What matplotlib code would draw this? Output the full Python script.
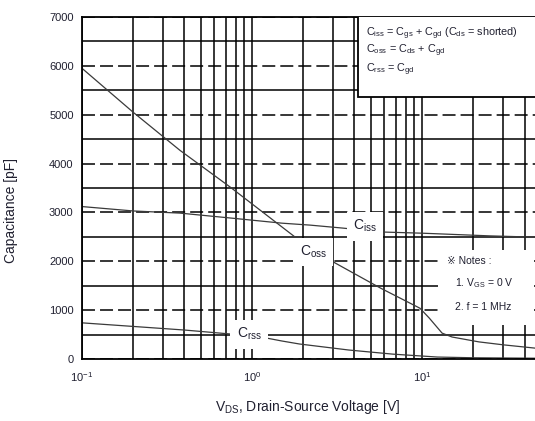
import matplotlib as mpl
mpl.use('Agg')
import matplotlib.pyplot as plt
from matplotlib.ticker import LogLocator, MultipleLocator, NullFormatter
from matplotlib.patches import Rectangle

plt.rcParams['font.family'] = ['Liberation Sans', 'DejaVu Sans']
plt.rcParams['mathtext.fontset'] = 'custom'
plt.rcParams['mathtext.rm'] = 'Liberation Sans'
plt.rcParams['mathtext.it'] = 'Liberation Sans'

# values (V in volts, C in pF)
ciss_v = [0.1, 0.2, 0.377, 0.75, 1.5, 2.2, 3.4, 5.7, 10, 14, 25, 50]
ciss_c = [3120, 3030, 2986, 2885, 2780, 2740, 2680, 2600, 2575, 2555, 2520, 2490]

coss_v = [0.1, 0.2, 0.377, 0.743, 1.83, 2.85, 5.7, 9.7, 11.0, 13.1, 15, 21.6, 30, 50]
coss_c = [5950, 5050, 4270, 3520, 2470, 2030, 1450, 1040, 840, 530, 450, 350, 290, 210]

crss_v = [0.1, 0.4, 0.75, 1.13, 1.5, 1.9, 3.7, 6.7, 12.3, 20, 50]
crss_c = [740, 593, 511, 450, 368, 307, 184, 100, 40, 25, 15]

txt = '#202030'
ink = 'black'

fig = plt.figure(figsize=(5.35, 4.21), dpi=100)
ax = fig.add_axes([82/535, 62/421, 459/535, 342/421])
ax.set_xscale('log')
ax.set_xlim(0.1, 50)
ax.set_ylim(0, 7000)
ax.set_axisbelow(True)

ax.yaxis.set_major_locator(MultipleLocator(1000))
ax.yaxis.set_minor_locator(MultipleLocator(500))
ax.xaxis.set_minor_locator(LogLocator(base=10, subs=range(2, 10)))
ax.xaxis.set_minor_formatter(NullFormatter())

ax.grid(which='major', axis='y', color=ink, lw=1.1, ls=(0, (8.5, 3.3)))
ax.grid(which='minor', axis='y', color=ink, lw=1.1, ls='-')
ax.grid(which='both', axis='x', color=ink, lw=1.1, ls='-')
ax.tick_params(which='both', length=0)
ax.tick_params(axis='x', pad=8, labelsize=8, labelcolor=txt)
ax.tick_params(axis='y', pad=6, labelsize=8, labelcolor=txt)
for s in ax.spines.values():
    s.set_linewidth(1.3)

ax.plot(ciss_v, ciss_c, color='#3a3a3a', lw=0.9, zorder=2)
ax.plot(coss_v, coss_c, color='#3a3a3a', lw=0.9, zorder=2)
ax.plot(crss_v, crss_c, color='#3a3a3a', lw=0.9, zorder=2)

box = dict(facecolor='white', edgecolor='none', pad=4.5)
ax.text(4.6, 2720, r'C$_{\mathrm{iss}}$', fontsize=10, color=txt, ha='center', va='center', bbox=box, zorder=4)
ax.text(2.29, 2190, r'C$_{\mathrm{oss}}$', fontsize=10, color=txt, ha='center', va='center', bbox=box, zorder=4)
ax.text(0.96, 510, r'C$_{\mathrm{rss}}$', fontsize=10, color=txt, ha='center', va='center', bbox=box, zorder=4)

# legend box top right
ax.add_patch(Rectangle((0.601, 0.766), 0.5, 0.3, transform=ax.transAxes,
                       facecolor='white', edgecolor=ink, lw=1.3, zorder=3))
ax.text(0.619, 0.944, r'C$_{\mathrm{iss}}$ = C$_{\mathrm{gs}}$ + C$_{\mathrm{gd}}$ (C$_{\mathrm{ds}}$ = shorted)',
        transform=ax.transAxes, fontsize=7.8, color=txt, va='baseline', zorder=4)
ax.text(0.619, 0.893, r'C$_{\mathrm{oss}}$ = C$_{\mathrm{ds}}$ + C$_{\mathrm{gd}}$',
        transform=ax.transAxes, fontsize=7.8, color=txt, va='baseline', zorder=4)
ax.text(0.619, 0.840, r'C$_{\mathrm{rss}}$ = C$_{\mathrm{gd}}$',
        transform=ax.transAxes, fontsize=7.8, color=txt, va='baseline', zorder=4)

# notes
ax.add_patch(Rectangle((0.776, 0.099), 0.209, 0.22, transform=ax.transAxes,
                       facecolor='white', edgecolor='none', zorder=3))
ax.text(0.795, 0.287, '\u203b Notes :', transform=ax.transAxes, fontsize=7.5, color=txt, va='center', zorder=4)
ax.text(0.813, 0.222, r'1. V$_{\mathrm{GS}}$ = 0 V', transform=ax.transAxes, fontsize=7.5, color=txt, va='center', zorder=4)
ax.text(0.813, 0.152, '2. f = 1 MHz', transform=ax.transAxes, fontsize=7.5, color=txt, va='center', zorder=4)

ax.set_xlabel(r'V$_{\mathrm{DS}}$, Drain-Source Voltage [V]', fontsize=10, color=txt)
ax.xaxis.set_label_coords(0.492, -0.114)
ax.set_ylabel('Capacitance [pF]', fontsize=10, color=txt)
ax.yaxis.set_label_coords(-0.139, 0.433)

fig.savefig('out.png', dpi=100)
